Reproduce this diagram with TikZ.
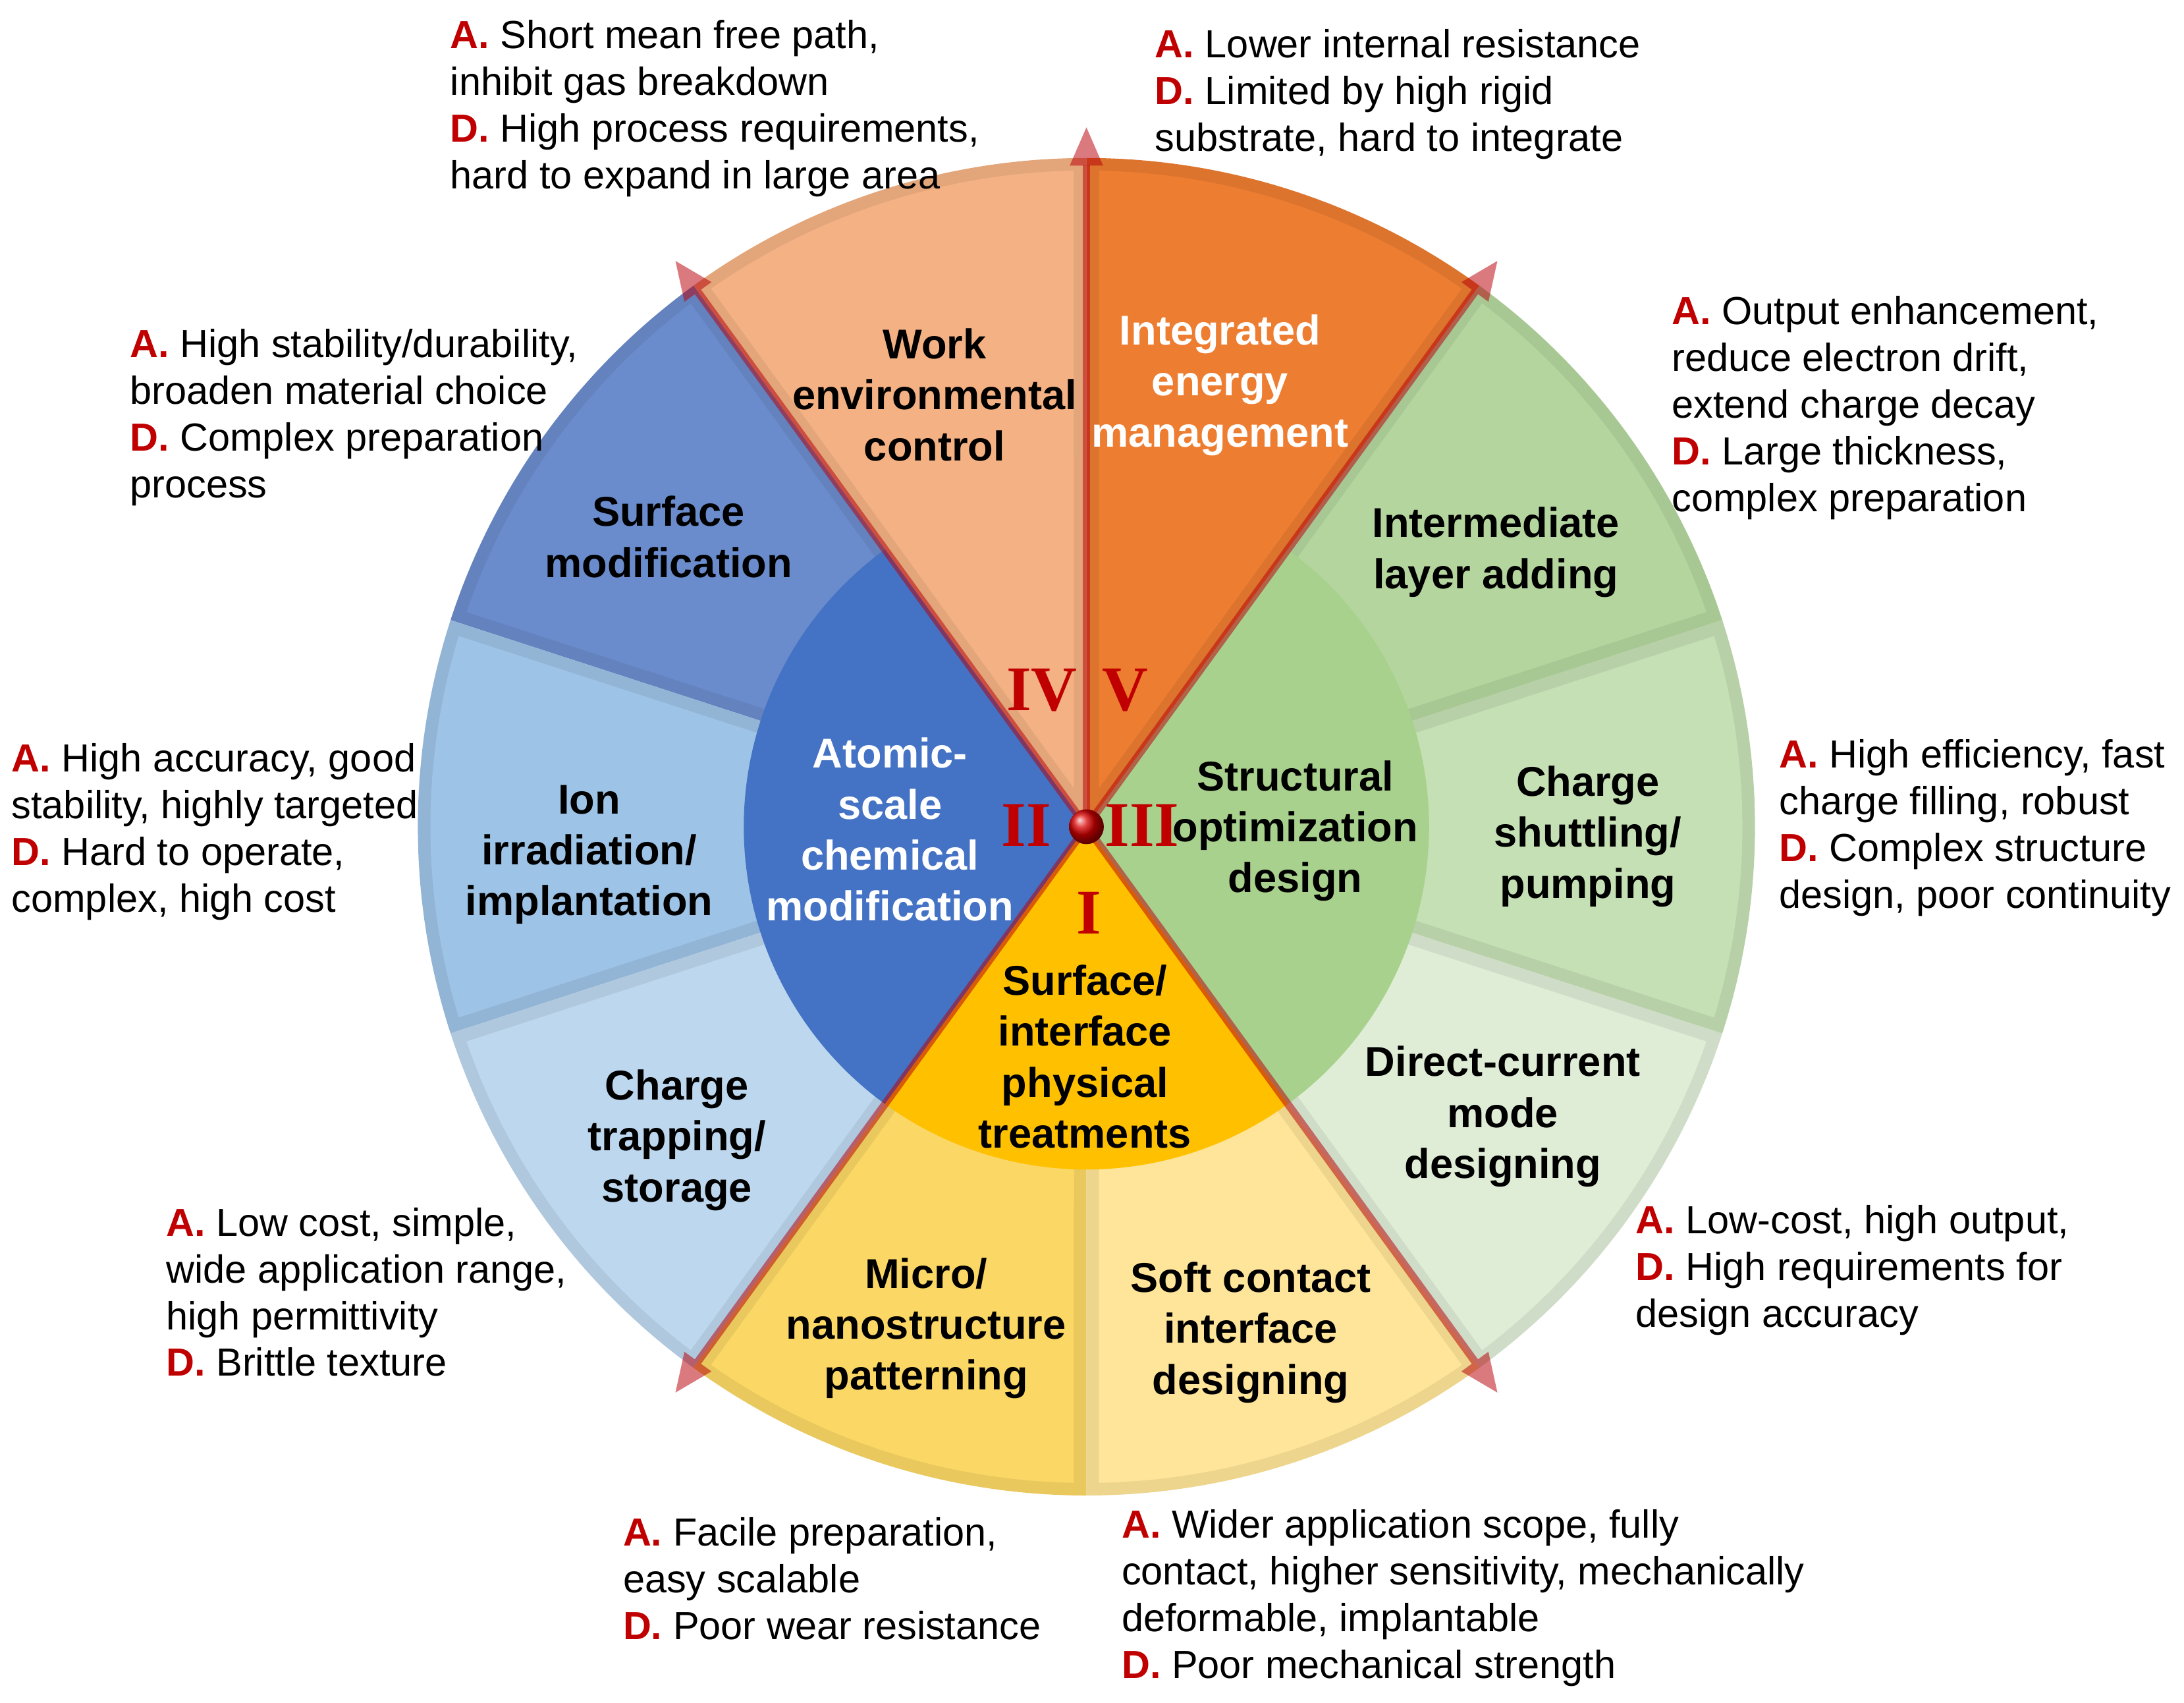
\documentclass[tikz,border=0pt]{standalone}
\usepackage{fontspec}
\setmainfont{Liberation Sans}
\newfontfamily\numfont{Liberation Serif}
\usepackage{tikz}
\usetikzlibrary{arrows.meta}

% sector colours
\definecolor{energy}{HTML}{ED7D31}
\definecolor{environ}{HTML}{F4B183}
\definecolor{surfmod}{HTML}{6A8CCC}
\definecolor{ionimp}{HTML}{9DC3E6}
\definecolor{chtrap}{HTML}{BDD7EE}
\definecolor{micro}{HTML}{FBD765}
\definecolor{softc}{HTML}{FFE599}
\definecolor{dcmode}{HTML}{DFEDD6}
\definecolor{shuttle}{HTML}{C5E0B4}
\definecolor{interl}{HTML}{B4D69E}
\definecolor{atomic}{HTML}{4472C4}
\definecolor{physic}{HTML}{FFC000}
\definecolor{struct}{HTML}{A9D18E}
\definecolor{advred}{HTML}{C00000}
\definecolor{axisred}{RGB}{184,0,9}

\newcommand{\Adv}{\textcolor{advred}{\textbf{A.}}}
\newcommand{\Dis}{\textcolor{advred}{\textbf{D.}}}

\tikzset{
  secttext/.style={align=center, inner sep=0pt, font=\bfseries\fontsize{17}{20.8}\selectfont},
  notetext/.style={align=left, inner sep=0pt, anchor=west, font=\fontsize{16}{19.1}\selectfont},
  numeral/.style={text=advred, inner sep=0pt, font=\numfont\bfseries\fontsize{26}{26}\selectfont},
  axis/.style={axisred, opacity=0.52, line width=0.11cm,
               -{Triangle[length=0.55cm,width=0.48cm,line width=0pt]}}
}

\begin{document}
\begin{tikzpicture}[x=2cm, y=2cm]
    \useasboundingbox (-7.80,-6.286) rectangle (7.88,5.934);

    % outer ring: ten sectors of 36 degrees, each with a darker rim
    \foreach \a/\c in {54/energy, 90/environ, 126/surfmod, 162/ionimp, 198/chtrap,
                       234/micro, 270/softc, 306/dcmode, 342/shuttle, 18/interl} {
        \fill[\c!93!black] (0,0) -- (\a:4.8) arc[start angle=\a, delta angle=36, radius=4.8] -- cycle;
        \fill[\c] ({\a+18}:0.29) -- ({\a+1.1}:4.71) arc[start angle=\a+1.1, delta angle=33.8, radius=4.71] -- cycle;
    }

    % inner disc
    \fill[atomic] (0,0) -- (126:2.46) arc[start angle=126, end angle=234, radius=2.46] -- cycle;
    \fill[physic] (0,0) -- (234:2.46) arc[start angle=234, end angle=306, radius=2.46] -- cycle;
    \fill[struct] (0,0) -- (306:2.46) arc[start angle=306, end angle=414, radius=2.46] -- cycle;

    % axes
    \coordinate (o) at (0,0);
    \foreach \a in {54,90,126,234,306} {
        \coordinate (t\a) at (\a:5.02);
        \draw[axis] (o) -- (t\a);
    }
    \node[circle, minimum size=0.5cm, inner sep=0pt, ball color=red!85!black] (core) at (o) {};

    % roman numerals
    \node[numeral] (nI) at (0.02,-0.62) {I};
    \node[numeral] (nII) at (-0.43,0.01) {II};
    \node[numeral] (nIII) at (0.40,0.01) {III};
    \node[numeral] (nIV) at (-0.32,0.98) {IV};
    \node[numeral] (nV) at (0.28,0.98) {V};

    % sector texts
    \node[secttext, text=white] (energylab) at (0.96,3.17) {Integrated\\energy\\management};
    \node[secttext] (environlab) at (-1.09,3.10) {Work\\environmental\\control};
    \node[secttext] (surfmodlab) at (-3.00,2.08) {Surface\\modification};
    \node[secttext] (ionimplab) at (-3.57,-0.20) {Ion\\irradiation/\\implantation};
    \node[secttext] (chtraplab) at (-2.94,-2.25) {Charge\\trapping/\\storage};
    \node[secttext] (microlab) at (-1.15,-3.60) {Micro/\\nanostructure\\patterning};
    \node[secttext] (softclab) at (1.18,-3.63) {Soft contact\\interface\\designing};
    \node[secttext] (dcmodelab) at (2.99,-2.08) {Direct-current\\mode\\designing};
    \node[secttext] (shuttlelab) at (3.60,-0.07) {Charge\\shuttling/\\pumping};
    \node[secttext] (interllab) at (2.94,1.97) {Intermediate\\layer adding};
    \node[secttext, text=white] (atomiclab) at (-1.41,-0.02) {Atomic-\\scale\\chemical\\modification};
    \node[secttext] (physiclab) at (-0.01,-1.65) {Surface/\\interface\\physical\\treatments};
    \node[secttext] (structlab) at (1.50,-0.03) {Structural\\optimization\\design};

    % advantages and disadvantages
    \node[notetext] (environnote) at (-4.57,5.155) {\Adv{} Short mean free path,\\inhibit gas breakdown\\\Dis{} High process requirements,\\hard to expand in large area};
    \node[notetext] (energynote) at (0.49,5.255) {\Adv{} Lower internal resistance\\\Dis{} Limited by high rigid\\substrate, hard to integrate};
    \node[notetext] (interlnote) at (4.20,3.005) {\Adv{} Output enhancement,\\reduce electron drift,\\extend charge decay\\\Dis{} Large thickness,\\complex preparation};
    \node[notetext] (shuttlenote) at (4.97,-0.01) {\Adv{} High efficiency, fast\\charge filling, robust\\\Dis{} Complex structure\\design, poor continuity};
    \node[notetext] (dcmodenote) at (3.94,-3.185) {\Adv{} Low-cost, high output,\\\Dis{} High requirements for\\design accuracy};
    \node[notetext] (softcnote) at (0.25,-5.535) {\Adv{} Wider application scope, fully\\contact, higher sensitivity, mechanically\\deformable, implantable\\\Dis{} Poor mechanical strength};
    \node[notetext] (micronote) at (-3.33,-5.395) {\Adv{} Facile preparation,\\easy scalable\\\Dis{} Poor wear resistance};
    \node[notetext] (chtrapnote) at (-6.61,-3.34) {\Adv{} Low cost, simple,\\wide application range,\\high permittivity\\\Dis{} Brittle texture};
    \node[notetext] (ionimpnote) at (-7.72,-0.035) {\Adv{} High accuracy, good\\stability, highly targeted\\\Dis{} Hard to operate,\\complex, high cost};
    \node[notetext] (surfmodnote) at (-6.87,2.94) {\Adv{} High stability/durability,\\broaden material choice\\\Dis{} Complex preparation\\process};
\end{tikzpicture}
\end{document}
